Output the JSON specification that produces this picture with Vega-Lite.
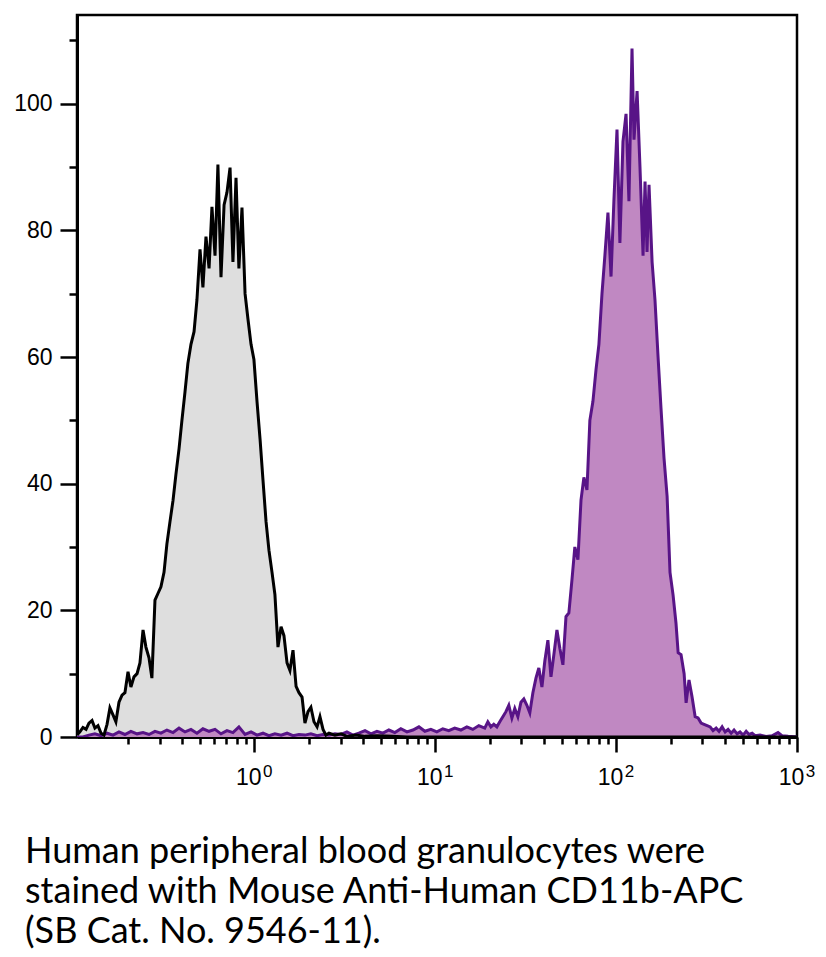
{
  "$schema": "https://vega.github.io/schema/vega-lite/v6.json",
  "autosize": {"type": "none"},
  "padding": {"left": 77, "top": 15, "right": 29, "bottom": 220},
  "width": 720,
  "height": 722,
  "background": "white",
  "config": {
    "view": {"stroke": "black", "strokeWidth": 2.5},
    "axis": {"grid": false, "domainColor": "black", "domainWidth": 3, "tickColor": "black", "tickWidth": 2.5, "labelFont": "Liberation Sans", "labelColor": "black", "title": null, "labelFlush": false, "labelOverlap": false, "labelBound": false}
  },
  "title": {
    "text": ["Human peripheral blood granulocytes were", "stained with Mouse Anti-Human CD11b-APC", "(SB Cat. No. 9546-11)."],
    "orient": "bottom", "anchor": "start", "frame": "group", "dx": -52, "offset": 46,
    "font": "Lato", "fontSize": 36, "fontWeight": "normal", "lineHeight": 40, "color": "black"
  },
  "datasets": {
    "control": [
      {"log_fl": -0.980, "count": 0.3}, {"log_fl": -0.964, "count": 0.8}, {"log_fl": -0.947, "count": 1.5}, {"log_fl": -0.930, "count": 1.2},
      {"log_fl": -0.914, "count": 2.2}, {"log_fl": -0.897, "count": 2.6}, {"log_fl": -0.881, "count": 1.4}, {"log_fl": -0.864, "count": 1.8},
      {"log_fl": -0.847, "count": 0.6}, {"log_fl": -0.831, "count": 0.3}, {"log_fl": -0.814, "count": 2.0}, {"log_fl": -0.798, "count": 4.6},
      {"log_fl": -0.781, "count": 3.5}, {"log_fl": -0.765, "count": 2.4}, {"log_fl": -0.748, "count": 5.5}, {"log_fl": -0.731, "count": 6.6},
      {"log_fl": -0.715, "count": 7.0}, {"log_fl": -0.698, "count": 10.3}, {"log_fl": -0.682, "count": 7.9}, {"log_fl": -0.665, "count": 9.5},
      {"log_fl": -0.648, "count": 10.0}, {"log_fl": -0.632, "count": 11.7}, {"log_fl": -0.615, "count": 16.9}, {"log_fl": -0.599, "count": 14.2},
      {"log_fl": -0.582, "count": 12.5}, {"log_fl": -0.566, "count": 9.3}, {"log_fl": -0.549, "count": 21.6}, {"log_fl": -0.532, "count": 22.7},
      {"log_fl": -0.516, "count": 23.7}, {"log_fl": -0.499, "count": 26.0}, {"log_fl": -0.483, "count": 30.5}, {"log_fl": -0.466, "count": 34.0},
      {"log_fl": -0.449, "count": 37.4}, {"log_fl": -0.433, "count": 41.5}, {"log_fl": -0.416, "count": 45.5}, {"log_fl": -0.400, "count": 50.0},
      {"log_fl": -0.383, "count": 54.5}, {"log_fl": -0.367, "count": 59.0}, {"log_fl": -0.350, "count": 62.0}, {"log_fl": -0.333, "count": 64.0},
      {"log_fl": -0.317, "count": 69.0}, {"log_fl": -0.300, "count": 77.0}, {"log_fl": -0.284, "count": 71.0}, {"log_fl": -0.267, "count": 79.0},
      {"log_fl": -0.250, "count": 74.0}, {"log_fl": -0.234, "count": 83.7}, {"log_fl": -0.217, "count": 76.0}, {"log_fl": -0.201, "count": 90.4},
      {"log_fl": -0.184, "count": 72.6}, {"log_fl": -0.167, "count": 84.0}, {"log_fl": -0.151, "count": 86.0}, {"log_fl": -0.134, "count": 89.9},
      {"log_fl": -0.118, "count": 75.0}, {"log_fl": -0.101, "count": 88.3}, {"log_fl": -0.085, "count": 74.0}, {"log_fl": -0.068, "count": 83.6},
      {"log_fl": -0.051, "count": 70.0}, {"log_fl": -0.035, "count": 66.0}, {"log_fl": -0.018, "count": 62.0}, {"log_fl": -0.002, "count": 59.6},
      {"log_fl": 0.015, "count": 53.0}, {"log_fl": 0.032, "count": 47.0}, {"log_fl": 0.048, "count": 40.6}, {"log_fl": 0.065, "count": 34.0},
      {"log_fl": 0.081, "count": 29.5}, {"log_fl": 0.098, "count": 26.0}, {"log_fl": 0.114, "count": 22.5}, {"log_fl": 0.131, "count": 14.2},
      {"log_fl": 0.148, "count": 17.4}, {"log_fl": 0.164, "count": 16.0}, {"log_fl": 0.181, "count": 11.7}, {"log_fl": 0.197, "count": 10.5},
      {"log_fl": 0.214, "count": 13.7}, {"log_fl": 0.231, "count": 8.0}, {"log_fl": 0.247, "count": 7.0}, {"log_fl": 0.264, "count": 6.3},
      {"log_fl": 0.280, "count": 2.2}, {"log_fl": 0.297, "count": 4.0}, {"log_fl": 0.313, "count": 4.7}, {"log_fl": 0.330, "count": 2.4},
      {"log_fl": 0.347, "count": 1.6}, {"log_fl": 0.363, "count": 3.2}, {"log_fl": 0.380, "count": 1.2}, {"log_fl": 0.396, "count": 0.3},
      {"log_fl": 0.413, "count": 0.6}, {"log_fl": 0.446, "count": 0.3}, {"log_fl": 0.479, "count": 0.5}, {"log_fl": 0.512, "count": 0.1},
      {"log_fl": 0.562, "count": 0.3}, {"log_fl": 0.612, "count": 0.1}, {"log_fl": 0.678, "count": 0.2}, {"log_fl": 0.761, "count": 0.1},
      {"log_fl": 0.844, "count": 0.0}, {"log_fl": 1.5, "count": 0.0}, {"log_fl": 2.2, "count": 0.0}, {"log_fl": 3.0, "count": 0.0}
    ],
    "cd11b": [
      {"log_fl": -0.980, "count": 0.0}, {"log_fl": -0.947, "count": 0.0}, {"log_fl": -0.914, "count": 0.3}, {"log_fl": -0.881, "count": 0.5},
      {"log_fl": -0.847, "count": 0.2}, {"log_fl": -0.814, "count": 0.6}, {"log_fl": -0.781, "count": 0.3}, {"log_fl": -0.748, "count": 0.8},
      {"log_fl": -0.715, "count": 0.4}, {"log_fl": -0.682, "count": 0.9}, {"log_fl": -0.648, "count": 0.5}, {"log_fl": -0.615, "count": 0.7},
      {"log_fl": -0.582, "count": 0.4}, {"log_fl": -0.549, "count": 0.9}, {"log_fl": -0.516, "count": 0.6}, {"log_fl": -0.483, "count": 1.1},
      {"log_fl": -0.449, "count": 0.7}, {"log_fl": -0.416, "count": 1.4}, {"log_fl": -0.383, "count": 0.8}, {"log_fl": -0.350, "count": 1.2},
      {"log_fl": -0.317, "count": 0.6}, {"log_fl": -0.284, "count": 1.3}, {"log_fl": -0.250, "count": 0.9}, {"log_fl": -0.217, "count": 1.2},
      {"log_fl": -0.184, "count": 0.5}, {"log_fl": -0.151, "count": 1.0}, {"log_fl": -0.118, "count": 0.7}, {"log_fl": -0.085, "count": 1.6},
      {"log_fl": -0.051, "count": 0.4}, {"log_fl": -0.018, "count": 0.8}, {"log_fl": 0.015, "count": 0.3}, {"log_fl": 0.048, "count": 0.6},
      {"log_fl": 0.081, "count": 0.2}, {"log_fl": 0.114, "count": 0.5}, {"log_fl": 0.148, "count": 0.3}, {"log_fl": 0.181, "count": 0.6},
      {"log_fl": 0.214, "count": 0.2}, {"log_fl": 0.247, "count": 0.4}, {"log_fl": 0.280, "count": 0.3}, {"log_fl": 0.313, "count": 0.5},
      {"log_fl": 0.347, "count": 0.2}, {"log_fl": 0.380, "count": 0.4}, {"log_fl": 0.413, "count": 0.3}, {"log_fl": 0.446, "count": 0.5},
      {"log_fl": 0.479, "count": 0.4}, {"log_fl": 0.512, "count": 0.8}, {"log_fl": 0.545, "count": 0.3}, {"log_fl": 0.578, "count": 0.6},
      {"log_fl": 0.612, "count": 1.0}, {"log_fl": 0.645, "count": 0.5}, {"log_fl": 0.678, "count": 0.9}, {"log_fl": 0.711, "count": 0.6},
      {"log_fl": 0.744, "count": 1.1}, {"log_fl": 0.777, "count": 0.7}, {"log_fl": 0.810, "count": 1.3}, {"log_fl": 0.844, "count": 0.8},
      {"log_fl": 0.877, "count": 1.1}, {"log_fl": 0.910, "count": 1.6}, {"log_fl": 0.943, "count": 0.9}, {"log_fl": 0.976, "count": 1.2},
      {"log_fl": 1.009, "count": 0.8}, {"log_fl": 1.042, "count": 1.3}, {"log_fl": 1.075, "count": 1.0}, {"log_fl": 1.108, "count": 1.4},
      {"log_fl": 1.142, "count": 1.1}, {"log_fl": 1.175, "count": 1.6}, {"log_fl": 1.208, "count": 1.2}, {"log_fl": 1.241, "count": 1.8},
      {"log_fl": 1.274, "count": 1.4}, {"log_fl": 1.291, "count": 2.4}, {"log_fl": 1.308, "count": 1.6}, {"log_fl": 1.324, "count": 2.0},
      {"log_fl": 1.341, "count": 1.6}, {"log_fl": 1.357, "count": 2.4}, {"log_fl": 1.374, "count": 3.2}, {"log_fl": 1.391, "count": 4.0},
      {"log_fl": 1.407, "count": 5.0}, {"log_fl": 1.424, "count": 3.0}, {"log_fl": 1.440, "count": 4.5}, {"log_fl": 1.457, "count": 3.2},
      {"log_fl": 1.474, "count": 5.5}, {"log_fl": 1.490, "count": 6.0}, {"log_fl": 1.507, "count": 5.0}, {"log_fl": 1.523, "count": 3.8},
      {"log_fl": 1.540, "count": 7.0}, {"log_fl": 1.557, "count": 9.3}, {"log_fl": 1.573, "count": 10.9}, {"log_fl": 1.590, "count": 7.9},
      {"log_fl": 1.606, "count": 12.0}, {"log_fl": 1.623, "count": 15.3}, {"log_fl": 1.640, "count": 9.5}, {"log_fl": 1.656, "count": 13.0},
      {"log_fl": 1.673, "count": 16.9}, {"log_fl": 1.689, "count": 14.0}, {"log_fl": 1.706, "count": 11.4}, {"log_fl": 1.723, "count": 19.0},
      {"log_fl": 1.739, "count": 19.6}, {"log_fl": 1.756, "count": 24.8}, {"log_fl": 1.772, "count": 30.0}, {"log_fl": 1.789, "count": 28.0},
      {"log_fl": 1.806, "count": 37.4}, {"log_fl": 1.822, "count": 41.0}, {"log_fl": 1.839, "count": 39.0}, {"log_fl": 1.855, "count": 50.0},
      {"log_fl": 1.872, "count": 53.0}, {"log_fl": 1.889, "count": 58.0}, {"log_fl": 1.905, "count": 62.0}, {"log_fl": 1.922, "count": 70.0},
      {"log_fl": 1.938, "count": 76.0}, {"log_fl": 1.955, "count": 82.8}, {"log_fl": 1.972, "count": 72.7}, {"log_fl": 1.988, "count": 84.8},
      {"log_fl": 2.005, "count": 95.9}, {"log_fl": 2.021, "count": 78.0}, {"log_fl": 2.038, "count": 94.0}, {"log_fl": 2.055, "count": 98.4},
      {"log_fl": 2.071, "count": 84.6}, {"log_fl": 2.088, "count": 108.7}, {"log_fl": 2.099, "count": 94.3}, {"log_fl": 2.116, "count": 102.0},
      {"log_fl": 2.132, "count": 90.0}, {"log_fl": 2.149, "count": 76.0}, {"log_fl": 2.160, "count": 87.7}, {"log_fl": 2.171, "count": 76.6},
      {"log_fl": 2.182, "count": 87.2}, {"log_fl": 2.199, "count": 75.0}, {"log_fl": 2.215, "count": 69.0}, {"log_fl": 2.232, "count": 60.0},
      {"log_fl": 2.248, "count": 52.0}, {"log_fl": 2.265, "count": 44.0}, {"log_fl": 2.282, "count": 38.0}, {"log_fl": 2.298, "count": 26.0},
      {"log_fl": 2.315, "count": 22.4}, {"log_fl": 2.331, "count": 18.0}, {"log_fl": 2.343, "count": 13.3}, {"log_fl": 2.359, "count": 13.0},
      {"log_fl": 2.376, "count": 10.0}, {"log_fl": 2.387, "count": 5.4}, {"log_fl": 2.403, "count": 9.0}, {"log_fl": 2.420, "count": 6.3},
      {"log_fl": 2.437, "count": 3.2}, {"log_fl": 2.453, "count": 3.0}, {"log_fl": 2.470, "count": 2.2}, {"log_fl": 2.486, "count": 2.0},
      {"log_fl": 2.503, "count": 1.8}, {"log_fl": 2.520, "count": 1.6}, {"log_fl": 2.536, "count": 1.0}, {"log_fl": 2.553, "count": 1.4},
      {"log_fl": 2.569, "count": 0.9}, {"log_fl": 2.586, "count": 1.6}, {"log_fl": 2.603, "count": 0.8}, {"log_fl": 2.619, "count": 1.2},
      {"log_fl": 2.636, "count": 0.6}, {"log_fl": 2.652, "count": 1.1}, {"log_fl": 2.669, "count": 0.5}, {"log_fl": 2.685, "count": 0.8},
      {"log_fl": 2.702, "count": 0.3}, {"log_fl": 2.719, "count": 0.9}, {"log_fl": 2.735, "count": 0.4}, {"log_fl": 2.752, "count": 0.6},
      {"log_fl": 2.768, "count": 0.2}, {"log_fl": 2.796, "count": 0.3}, {"log_fl": 2.829, "count": 0.1}, {"log_fl": 2.862, "count": 0.2},
      {"log_fl": 2.895, "count": 0.7}, {"log_fl": 2.917, "count": 0.2}, {"log_fl": 2.951, "count": 0.1}, {"log_fl": 3.0, "count": 0.0}
    ]
  },
  "layer": [
    {
      "data": {"name": "control"},
      "mark": {"type": "area", "color": "#dedede", "clip": true},
      "encoding": {
        "x": {"field": "log_fl", "type": "quantitative",
          "scale": {"domain": [-0.98, 3.0], "nice": false, "zero": false},
          "axis": {"orient": "bottom", "values": [0, 1, 2, 3], "tickSize": 15, "labelExpr": "'10'", "labelFontSize": 23, "labelPadding": 14, "labelOffset": -6}},
        "y": {"field": "count", "type": "quantitative",
          "scale": {"domain": [0, 114], "nice": false},
          "axis": {"orient": "left", "values": [0, 20, 40, 60, 80, 100], "tickSize": 17, "labelFontSize": 23, "labelPadding": 8}}
      }
    },
    {
      "data": {"name": "cd11b"},
      "mark": {"type": "area", "color": "#c088c2", "clip": true},
      "encoding": {
        "x": {"field": "log_fl", "type": "quantitative",
          "axis": {"orient": "bottom", "values": [0, 1, 2, 3], "tickSize": 15, "tickOpacity": 0, "domain": false, "format": "d", "labelFontSize": 17, "labelPadding": 11, "labelOffset": 13}},
        "y": {"field": "count", "type": "quantitative",
          "axis": {"orient": "left", "values": [10, 30, 50, 70, 90, 110], "tickSize": 8, "labels": false, "domain": false}}
      }
    },
    {
      "data": {"name": "cd11b"},
      "mark": {"type": "line", "color": "#581487", "strokeWidth": 3, "clip": true},
      "encoding": {
        "x": {"field": "log_fl", "type": "quantitative",
          "axis": {"orient": "bottom", "values": [-0.699, -0.523, -0.398, -0.301, -0.222, -0.155, -0.097, -0.046, 0.301, 0.477, 0.602, 0.699, 0.778, 0.845, 0.903, 0.954, 1.301, 1.477, 1.602, 1.699, 1.778, 1.845, 1.903, 1.954, 2.301, 2.477, 2.602, 2.699, 2.778, 2.845, 2.903, 2.954], "tickSize": 7, "labels": false, "domain": false}},
        "y": {"field": "count", "type": "quantitative", "axis": null}
      }
    },
    {
      "data": {"name": "control"},
      "mark": {"type": "line", "color": "black", "strokeWidth": 3, "clip": true},
      "encoding": {
        "x": {"field": "log_fl", "type": "quantitative", "axis": null},
        "y": {"field": "count", "type": "quantitative", "axis": null}
      }
    }
  ],
  "resolve": {"axis": {"x": "independent", "y": "independent"}}
}
